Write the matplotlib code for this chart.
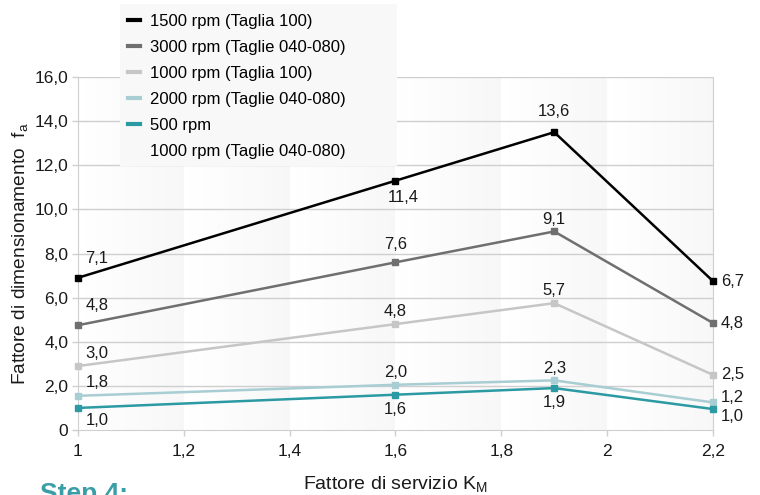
import numpy as np
import matplotlib
matplotlib.use("Agg")
import matplotlib.pyplot as plt
from matplotlib.patches import Rectangle
from matplotlib.ticker import FuncFormatter, MultipleLocator

plt.rcParams['font.family'] = ['Liberation Sans', 'DejaVu Sans']

# x positions (fattore di servizio)
km = [1.0, 1.6, 1.9, 2.2]

# values as drawn, and the labels printed next to each point
rpm1500_t100 = [6.9, 11.3, 13.5, 6.75]
rpm1500_lbl = ["7,1", "11,4", "13,6", "6,7"]
rpm3000 = [4.75, 7.6, 9.0, 4.85]
rpm3000_lbl = ["4,8", "7,6", "9,1", "4,8"]
rpm1000_t100 = [2.9, 4.8, 5.75, 2.5]
rpm1000_t100_lbl = ["3,0", "4,8", "5,7", "2,5"]
rpm2000 = [1.55, 2.05, 2.25, 1.25]
rpm2000_lbl = ["1,8", "2,0", "2,3", "1,2"]
rpm500 = [1.0, 1.6, 1.9, 0.95]
rpm500_lbl = ["1,0", "1,6", "1,9", "1,0"]

legend_names = ["1500 rpm (Taglia 100)", "3000 rpm (Taglie 040-080)",
                "1000 rpm (Taglia 100)", "2000 rpm (Taglie 040-080)",
                "500 rpm", "1000 rpm (Taglie 040-080)"]

fig = plt.figure(figsize=(7.6, 4.95), dpi=100)
ax = fig.add_axes([0.1026, 0.1313, 0.8355, 0.7131])

# gradient bands between x ticks
grad = np.linspace(0, 1, 64).reshape(1, -1)
for x0 in np.arange(1.0, 2.2, 0.2):
    ax.imshow(grad, extent=[x0, x0 + 0.2, 0, 16], aspect='auto', cmap='Greys',
              vmin=0, vmax=16, zorder=0, interpolation='bilinear')
ax.set_xlim(1, 2.2)
ax.set_ylim(0, 16)

for y in np.arange(2, 17, 2):
    ax.axhline(y, color='#cfcfcf', lw=1, zorder=1)

# label offsets in pixels (dx, dy, ha) for each point
series = [
    (rpm1500_t100, rpm1500_lbl, '#000000',
     [(19, 19, 'center'), (8, -17, 'center'), (0, 21, 'center'), (8, 0, 'left')]),
    (rpm3000, rpm3000_lbl, '#6f6f6f',
     [(19, 20, 'center'), (0, 18, 'center'), (0, 12, 'center'), (8, 0, 'left')]),
    (rpm1000_t100, rpm1000_t100_lbl, '#c6c6c6',
     [(19, 13, 'center'), (0, 13, 'center'), (0, 13, 'center'), (8, 0, 'left')]),
    (rpm2000, rpm2000_lbl, '#a8cdd2',
     [(19, 13, 'center'), (0, 12, 'center'), (0, 12, 'center'), (8, 5, 'left')]),
    (rpm500, rpm500_lbl, '#2b9aa3',
     [(19, -13, 'center'), (0, -15, 'center'), (0, -14, 'center'), (8, -7, 'left')]),
]
handles = []
for vals, lbls, col, offs in series:
    ax.plot(km, vals, color=col, lw=1.8, marker='s', markersize=5, zorder=3, clip_on=False)
    h, = ax.plot([], [], color=col, lw=3)
    handles.append(h)
    for x, v, t, (dx, dy, ha) in zip(km, vals, lbls, offs):
        ax.annotate(t, (x, v), xytext=(dx, dy), textcoords='offset pixels',
                    ha=ha, va='center', fontsize=12, color='#1a1a1a')
h, = ax.plot([], [], color='#f8f8f8', lw=3)
handles.append(h)

for s in ['left', 'bottom', 'right', 'top']:
    ax.spines[s].set_color('#cfcfcf')
ax.spines['top'].set_visible(False)
ax.xaxis.set_major_locator(MultipleLocator(0.2))
ax.yaxis.set_major_locator(MultipleLocator(2))
ax.xaxis.set_major_formatter(FuncFormatter(lambda v, p: ('%g' % round(v, 1)).replace('.', ',')))
ax.yaxis.set_major_formatter(FuncFormatter(lambda v, p: '0' if v == 0 else ('%.1f' % v).replace('.', ',')))
ax.tick_params(colors='#cfcfcf', labelcolor='#1a1a1a', labelsize=12.5, length=4, width=1, pad=3)
ax.tick_params(axis='x', pad=6)

ax.set_xlabel('Fattore di servizio $\\mathregular{K_M}$', fontsize=14, color='#1a1a1a', labelpad=11)
ax.set_ylabel('Fattore di dimensionamento  $\\mathregular{f_a}$', fontsize=13.8, color='#1a1a1a', labelpad=3)

# legend background box
fig.patches.append(Rectangle((0.1579, 0.6646), 0.3645, 0.3273, transform=fig.transFigure,
                             facecolor='#f8f8f8', edgecolor='none', zorder=5))
leg = fig.legend(handles, legend_names, loc='upper left', bbox_to_anchor=(0.1684, 0.972),
                 frameon=False, fontsize=12, handlelength=0.75, handletextpad=0.55,
                 labelspacing=0.66, borderpad=0, borderaxespad=0)
leg.set_zorder(10)

fig.text(0.053, 0.026, 'Step 4:', color='#3a9ea6', fontsize=19, fontweight='bold', va='top')

fig.savefig('out.png', dpi=100)
